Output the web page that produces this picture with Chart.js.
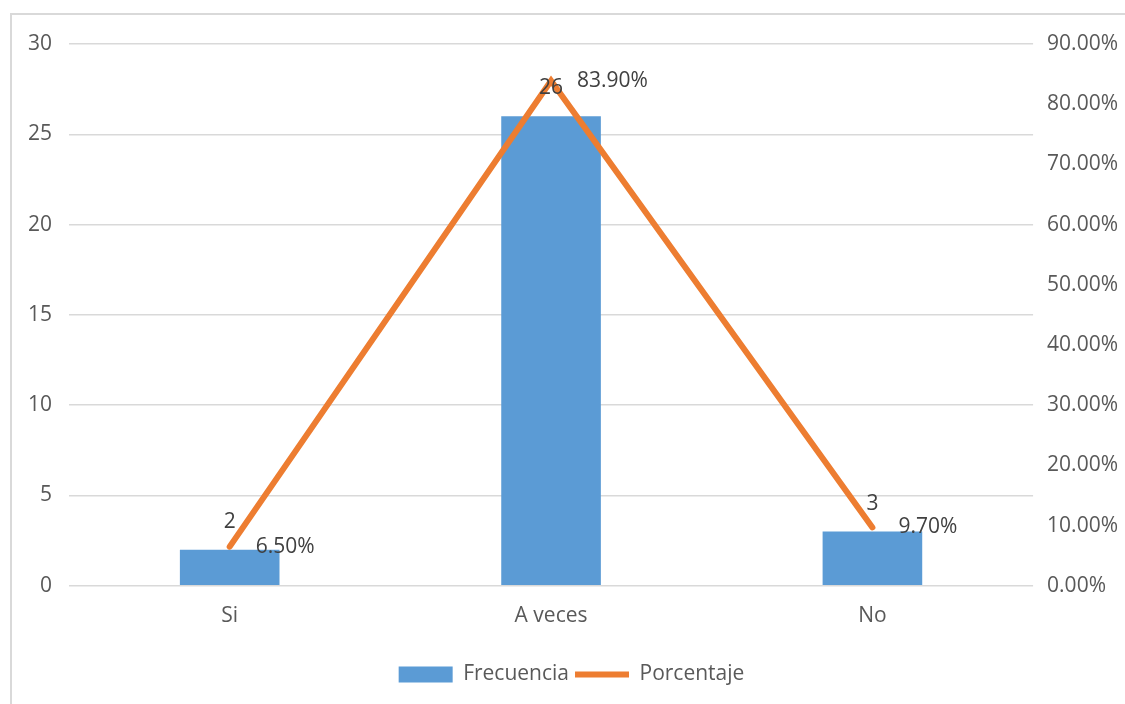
<!DOCTYPE html>
<html>
<head>
<meta charset="utf-8">
<script src="https://cdn.jsdelivr.net/npm/chart.js@4"></script>
<style>
  html, body { margin: 0; padding: 0; background: #fff; overflow: hidden; }
  #frame {
    position: absolute; left: 10px; top: 13px;
    width: 1130px; height: 700px;
    border: 2px solid #d9d9d9; box-sizing: border-box;
  }
  #wrap { position: absolute; left: 0; top: 0; width: 1125px; height: 704px; }
</style>
</head>
<body>
<div id="frame"></div>
<div id="wrap"><canvas id="chart"></canvas></div>
<script>
const categories = ["Si", "A veces", "No"];
const frecuencia = [2, 26, 3];
const porcentaje = [0.065, 0.839, 0.097];

const textColor = "#595959";
const fontFamily = "'Open Sans', sans-serif";
const fontSize = 21;

// Etiquetas de datos al estilo Excel
const dataLabels = {
  id: "dataLabels",
  afterDatasetsDraw(chart) {
    const ctx = chart.ctx;
    ctx.save();
    ctx.font = fontSize + "px " + fontFamily;
    ctx.fillStyle = "#404040";
    ctx.textBaseline = "middle";

    const bars = chart.getDatasetMeta(0).data;
    ctx.textAlign = "center";
    bars.forEach((bar, i) => {
      ctx.fillText(String(frecuencia[i]), bar.x, bar.y - 28);
    });

    const points = chart.getDatasetMeta(1).data;
    ctx.textAlign = "left";
    points.forEach((pt, i) => {
      ctx.fillText((porcentaje[i] * 100).toFixed(2) + "%", pt.x + 26, pt.y);
    });
    ctx.restore();
  },
};

new Chart(document.getElementById("chart"), {
  type: "bar",
  data: {
    labels: categories,
    datasets: [
      {
        label: "Frecuencia",
        data: frecuencia,
        backgroundColor: "#5b9bd5",
        borderWidth: 0,
        barPercentage: 0.31,
        categoryPercentage: 1,
        yAxisID: "y",
        order: 1,
      },
      {
        type: "line",
        label: "Porcentaje",
        data: porcentaje,
        borderColor: "#ed7d31",
        backgroundColor: "#ed7d31",
        borderWidth: 6,
        borderCapStyle: "round",
        pointRadius: 0,
        tension: 0,
        yAxisID: "y1",
        order: 0,
      },
    ],
  },
  options: {
    responsive: true,
    maintainAspectRatio: false,
    animation: false,
    layout: { padding: { left: 11, right: -7, top: 44, bottom: 9 } },
    scales: {
      x: {
        grid: { display: false },
        border: { display: false },
        ticks: { color: textColor, font: { family: fontFamily, size: fontSize }, padding: 10 },
        afterFit: (scale) => { scale.height += 19; },
      },
      y: {
        position: "left",
        min: 0,
        max: 30,
        ticks: { stepSize: 5, color: textColor, font: { family: fontFamily, size: fontSize }, padding: 17 },
        grid: { color: "#d9d9d9", lineWidth: 1.5, drawTicks: false },
        border: { display: false },
      },
      y1: {
        position: "right",
        min: 0,
        max: 0.9,
        ticks: {
          stepSize: 0.1,
          color: textColor,
          font: { family: fontFamily, size: fontSize },
          padding: 14,
          callback: (v) => (v * 100).toFixed(2) + "%",
        },
        grid: { display: false, drawTicks: false },
        border: { display: false },
      },
    },
    plugins: {
      tooltip: { enabled: false },
      legend: {
        position: "bottom",
        labels: {
          color: textColor,
          font: { family: fontFamily, size: fontSize },
          usePointStyle: true,
          pointStyleWidth: 54,
          boxHeight: 16,
          padding: 6,
          generateLabels: (chart) =>
            chart.data.datasets.map((ds, i) => ({
              text: ds.label,
              datasetIndex: i,
              fontColor: textColor,
              fillStyle: ds.backgroundColor,
              strokeStyle: ds.borderColor || ds.backgroundColor,
              lineWidth: ds.type === "line" ? 6 : 0,
              pointStyle: ds.type === "line" ? "line" : "rect",
              hidden: false,
            })),
        },
      },
    },
  },
  plugins: [dataLabels],
});
</script>
</body>
</html>
